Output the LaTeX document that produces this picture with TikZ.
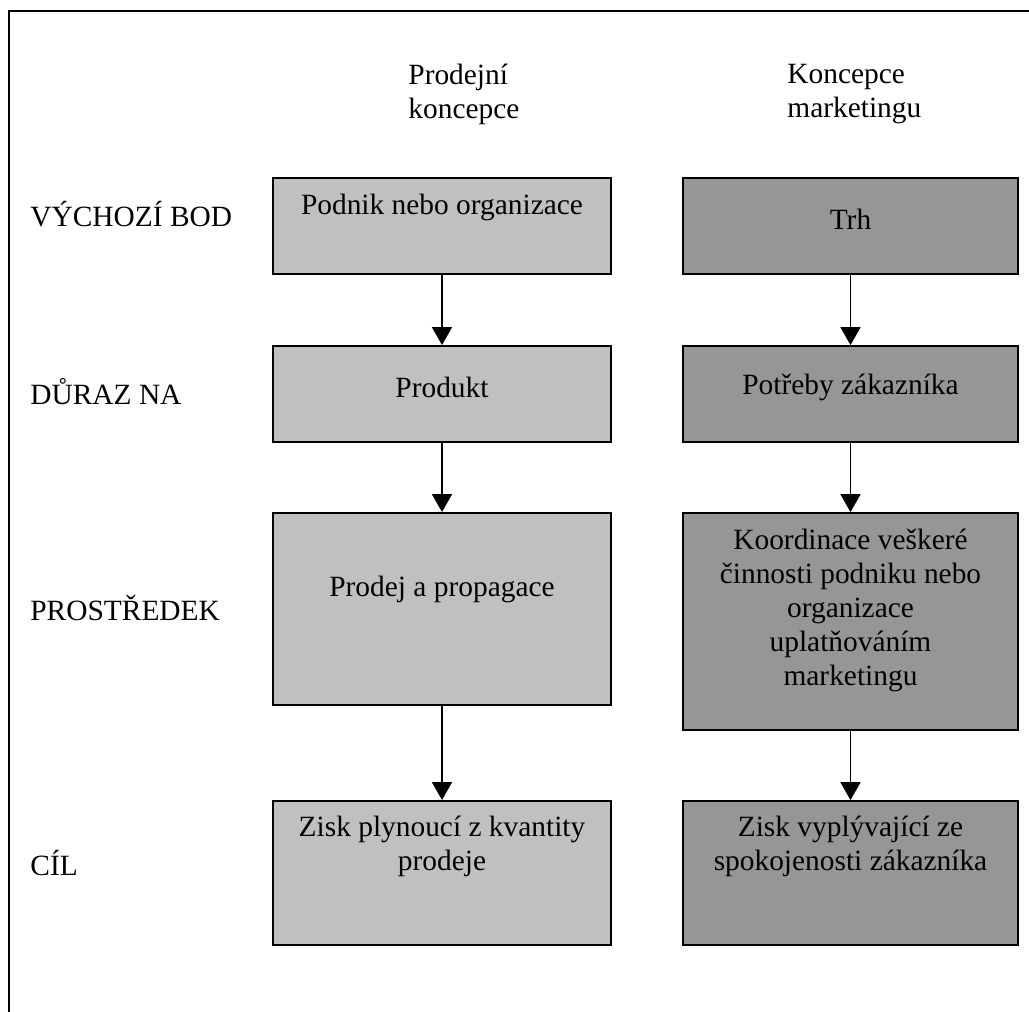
\documentclass[tikz,border=0pt]{standalone}
\usepackage{fontspec}
\setmainfont{Liberation Serif}
\usetikzlibrary{arrows.meta}
\definecolor{sellgray}{HTML}{C0C0C0}
\definecolor{mktgray}{HTML}{969696}
\begin{document}
\begin{tikzpicture}[x=.5pt,y=-.5pt,font=\fontsize{14.7}{17}\selectfont,
    box/.style={draw=black,line width=.9pt,inner sep=0pt},
    sellbox/.style={box,fill=sellgray,minimum width=169pt},
    mktbox/.style={box,fill=mktgray,minimum width=167.5pt},
    txt/.style={inner sep=0pt,align=center},
    rowlabel/.style={inner sep=0pt,anchor=west},
    flow/.style={-{Triangle[length=9pt,width=10pt]},line width=.8pt}]
\useasboundingbox (0,0) rectangle (1029,1012);
\draw[line width=1pt] (8.5,1012) -- (8.5,11) -- (1029,11);
\node[rowlabel,align=left,anchor=west] (hsell) at (408,94) {Prodejní\\koncepce};
\node[rowlabel,align=left,anchor=west] (hmkt) at (787,94) {Koncepce\\marketingu};
\node[rowlabel] (r1) at (30,214) {VÝCHOZÍ BOD};
\node[rowlabel] (r2) at (30,392) {DŮRAZ NA};
\node[rowlabel] (r3) at (30,608) {PROSTŘEDEK};
\node[rowlabel] (r4) at (30,863) {CÍL};
% prodejni koncepce
\node[sellbox,minimum height=48pt] (s1) at (442,226) {};
\node[sellbox,minimum height=48pt] (s2) at (442,394) {};
\node[sellbox,minimum height=96pt] (s3) at (442,609) {};
\node[sellbox,minimum height=72pt] (s4) at (442,873) {};
\node[txt] (s1t) at (442,207) {Podnik nebo organizace};
\node[txt] (s2t) at (442,387) {Produkt};
\node[txt] (s3t) at (442,589) {Prodej a propagace};
\node[txt] (s4t) at (442,846.5) {Zisk plynoucí z kvantity\\prodeje};
% koncepce marketingu
\node[mktbox,minimum height=48pt] (m1) at (850.5,226) {};
\node[mktbox,minimum height=48pt] (m2) at (850.5,394) {};
\node[mktbox,minimum height=108.5pt] (m3) at (850.5,621.5) {};
\node[mktbox,minimum height=72pt] (m4) at (850.5,873) {};
\node[txt] (m1t) at (850.5,219) {Trh};
\node[txt] (m2t) at (850.5,387) {Potřeby zákazníka};
\node[txt] (m3t) at (850.5,610) {Koordinace veškeré\\činnosti podniku nebo\\organizace\\uplatňováním\\marketingu};
\node[txt] (m4t) at (850.5,846.5) {Zisk vyplývající ze\\spokojenosti zákazníka};
\foreach \a/\b in {s1/s2,s2/s3,s3/s4,m1/m2,m2/m3,m3/m4}
  \draw[flow] (\a) -- (\b);
\end{tikzpicture}
\end{document}
